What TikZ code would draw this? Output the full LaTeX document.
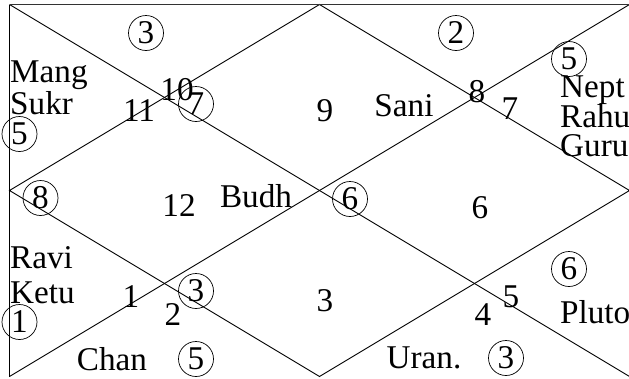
\documentclass[tikz,border=0pt]{standalone}
\usepackage{fontspec}
\setmainfont{Liberation Serif}
\newcommand{\chartfont}{\fontsize{33.2}{35}\selectfont}
\tikzset{
  chartlbl/.style={font={\chartfont}, inner sep=0pt},
  housenum/.style={chartlbl, anchor=center},
  circnum/.style={chartlbl, draw, circle, minimum size=35pt, line width=0.7pt},
  planetleft/.style={chartlbl, anchor=base west},
  planetmid/.style={chartlbl, anchor=base},
  chartline/.style={line width=0.9pt},
  topborder/.style={line width=1.6pt, draw=black!80}
}
\begin{document}
\begin{tikzpicture}[x=1pt,y=-1pt]
\useasboundingbox (0,0) rectangle (629,378);
% frame points
\coordinate (TL) at (9.5,4.5);
\coordinate (TM) at (319.5,4.5);
\coordinate (TR) at (629.5,4.5);
\coordinate (ML) at (9.5,190.5);
\coordinate (MR) at (629.5,190.5);
\coordinate (BL) at (9.5,376.5);
\coordinate (BM) at (319.5,376.5);
\coordinate (BR) at (629.5,376.5);
% lines
\draw[chartline] (TL) -- (BL);
\draw[chartline] (TL) -- (BR);
\draw[chartline] (TR) -- (BL);
\draw[chartline] (TM) -- (ML) -- (BM) -- (MR) -- cycle;
\draw[topborder] (TL) -- (TR);
% top-left house
\node[circnum] (c3a) at (146,33) {3};
\node[planetleft] (mang) at (10,82) {Mang};
\node[planetleft] (sukr) at (10,114) {Sukr};
\node[circnum] (c5a) at (19.5,134) {5};
\node[housenum] (n11) at (139,111) {11};
\node[housenum] (n10) at (177,90) {10};
\node[circnum] (c7) at (196,104) {7};
% top-middle / right
\node[housenum] (n9) at (325,111) {9};
\node[planetmid] (sani) at (404,116) {Sani};
\node[circnum] (c2) at (456,33) {2};
\node[housenum] (n8) at (477,92) {8};
\node[housenum] (n7) at (510,109) {7};
\node[circnum] (c5b) at (569,59) {5};
\node[planetleft] (nept) at (560,97) {Nept};
\node[planetleft] (rahu) at (560,127) {Rahu};
\node[planetleft] (guru) at (560,156) {Guru};
% middle row
\node[circnum] (c8) at (40.5,198) {8};
\node[housenum] (n12) at (179,206) {12};
\node[planetmid] (budh) at (256,207) {Budh};
\node[circnum] (c6a) at (350,199) {6};
\node[housenum] (n6) at (480,208) {6};
% lower-left
\node[planetleft] (ravi) at (10,268) {Ravi};
\node[planetleft] (ketu) at (10,303) {Ketu};
\node[circnum] (c1) at (19.5,322) {1};
\node[housenum] (n1) at (131,297) {1};
\node[housenum] (n2) at (173,315) {2};
\node[circnum] (c3b) at (196,291) {3};
\node[planetmid] (chan) at (112,370) {Chan};
\node[circnum] (c5c) at (196,359) {5};
% lower-middle / right
\node[housenum] (n3) at (325,301) {3};
\node[housenum] (n4) at (483,315) {4};
\node[housenum] (n5) at (511,297) {5};
\node[circnum] (c6b) at (569,269) {6};
\node[planetleft] (pluto) at (560,323) {Pluto};
\node[planetmid] (uran) at (424,368) {Uran.};
\node[circnum] (c3c) at (506,358) {3};
\end{tikzpicture}
\end{document}
